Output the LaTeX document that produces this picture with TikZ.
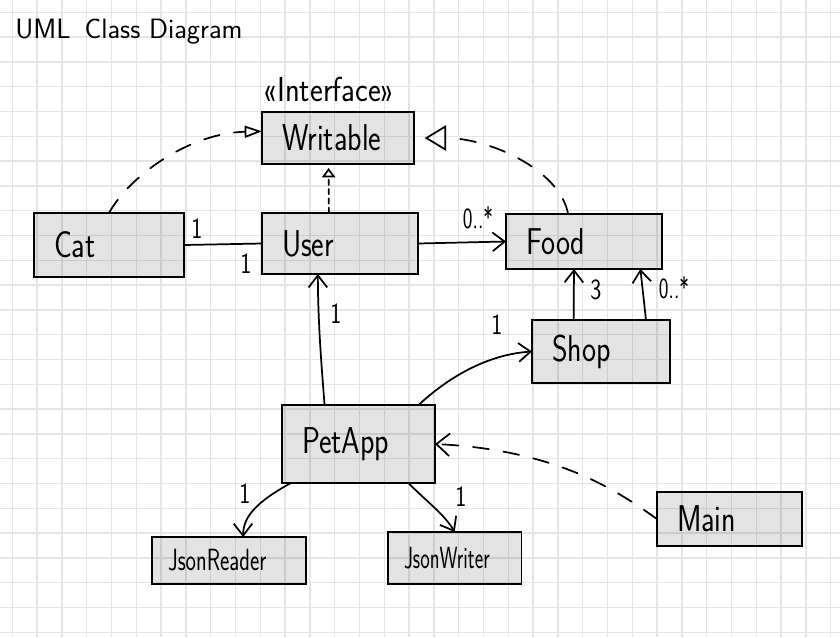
\documentclass[tikz,border=0pt]{standalone}
\usepackage{tikz}
\usepackage{graphicx}
\usetikzlibrary{arrows.meta}

\newcommand{\hw}[2][0.8]{\scalebox{#1}[1]{#2}}

\begin{document}
\begin{tikzpicture}[x=0.75pt,y=0.75pt,yscale=-1,xscale=1,
    gridline/.style={draw=gray!20, line width=1.1pt},
    classbox/.style={draw, line width=1.1pt, fill=black, fill opacity=0.11, text opacity=1,
        anchor=north west, outer sep=0pt, inner xsep=15pt, inner ysep=0pt, align=left,
        font=\sffamily\fontsize{28}{30}\selectfont},
    jsonbox/.style={classbox, inner xsep=12pt, font=\sffamily\fontsize{23}{25}\selectfont},
    mult/.style={inner sep=0pt, font=\sffamily\fontsize{22}{24}\selectfont},
    conn/.style={line width=1.3pt, line cap=round},
    assoc/.style={conn, -{Straight Barb[length=9pt,width=14pt]}},
    realize/.style 2 args={conn, dash pattern=on 12pt off 11pt, -{Triangle[open,length=#1,width=#2]}}
]
    \fill [white] (0,0) rectangle (840,637);
    \useasboundingbox (0,0) rectangle (840,637);
    \foreach \gx in {0,...,33} \draw [gridline] (12.3+24.8*\gx,0) -- (12.3+24.8*\gx,637);
    \foreach \gy in {0,...,25} \draw [gridline] (0,12.3+24.8*\gy) -- (840,12.3+24.8*\gy);

    \node [anchor=base west, inner sep=0pt, font=\sffamily\fontsize{21}{24}\selectfont] (title) at (15,38) {UML\enspace Class Diagram};
    \node [anchor=base, inner sep=0pt, font=\sffamily\fontsize{26}{28}\selectfont] (stereo) at (329,101) {\hw[0.88]{«Interface»}};

    \node [classbox, text width=84pt, minimum height=39pt] (writable) at (262,112) {\hw{Writable}};
    \node [classbox, text width=82.5pt, minimum height=48pt] (cat) at (34,213) {\hw{Cat}};
    \node [classbox, text width=87pt, minimum height=45.75pt] (user) at (262,213) {\hw{User}};
    \node [classbox, text width=87pt, minimum height=41.25pt] (food) at (506,214) {\hw{Food}};
    \node [classbox, text width=73.5pt, minimum height=47.25pt] (shop) at (532,320) {\hw{Shop}};
    \node [classbox, text width=84.75pt, minimum height=58.5pt] (petapp) at (282,405) {\hw{PetApp}};
    \node [classbox, text width=78.75pt, minimum height=40.5pt] (main) at (657,492) {\hw{Main}};
    \node [jsonbox, text width=91.5pt, minimum height=35.25pt] (reader) at (152,537) {\hw[0.72]{JsonReader}};
    \node [jsonbox, text width=76pt, minimum height=39pt] (writer) at (388,532) {\hw[0.66]{JsonWriter}};

    \draw [realize={13pt}{9pt}] (cat.north) .. controls (130,175) and (190,133) .. (writable.175);
    \draw [conn, dash pattern=on 4pt off 3pt, -{Triangle[open,length=7pt,width=10pt]}, shorten >=3pt] (user.110) -- (writable.250);
    \draw [realize={16pt}{19pt}, shorten >=8pt] (food.120) .. controls (560,170) and (490,138) .. (writable.east);
    \draw [conn] (cat.east) -- (user.west);
    \draw [assoc] (user.east) -- (food.west);
    \draw [assoc] (shop.131) -- (food.250);
    \draw [assoc] (shop.35) -- (food.334);
    \draw [assoc] (petapp.131) .. controls (321,360) and (318,320) .. (user.234);
    \draw [assoc] (petapp.33) .. controls (440,385) and (480,355) .. (shop.west);
    \draw [conn, dash pattern=on 12pt off 11pt, -{Straight Barb[length=10pt,width=17pt]}] (main.west) .. controls (620,493) and (560,450) .. (petapp.east);
    \draw [assoc] (petapp.210) .. controls (260,500) and (243,515) .. (reader.59);
    \draw [assoc] (petapp.322) .. controls (425,500) and (445,515) .. (writer.north);

    \node [mult] (m1) at (197,229) {\hw{1}};
    \node [mult] (m2) at (246,264) {\hw{1}};
    \node [mult] (m3) at (478,218) {\hw[0.7]{0..*}};
    \node [mult] (m4) at (596,290) {\hw{3}};
    \node [mult] (m5) at (674,288) {\hw[0.7]{0..*}};
    \node [mult] (m6) at (336,314) {\hw{1}};
    \node [mult] (m7) at (497,325) {\hw{1}};
    \node [mult] (m8) at (245,494) {\hw{1}};
    \node [mult] (m9) at (461,497) {\hw{1}};
\end{tikzpicture}
\end{document}
